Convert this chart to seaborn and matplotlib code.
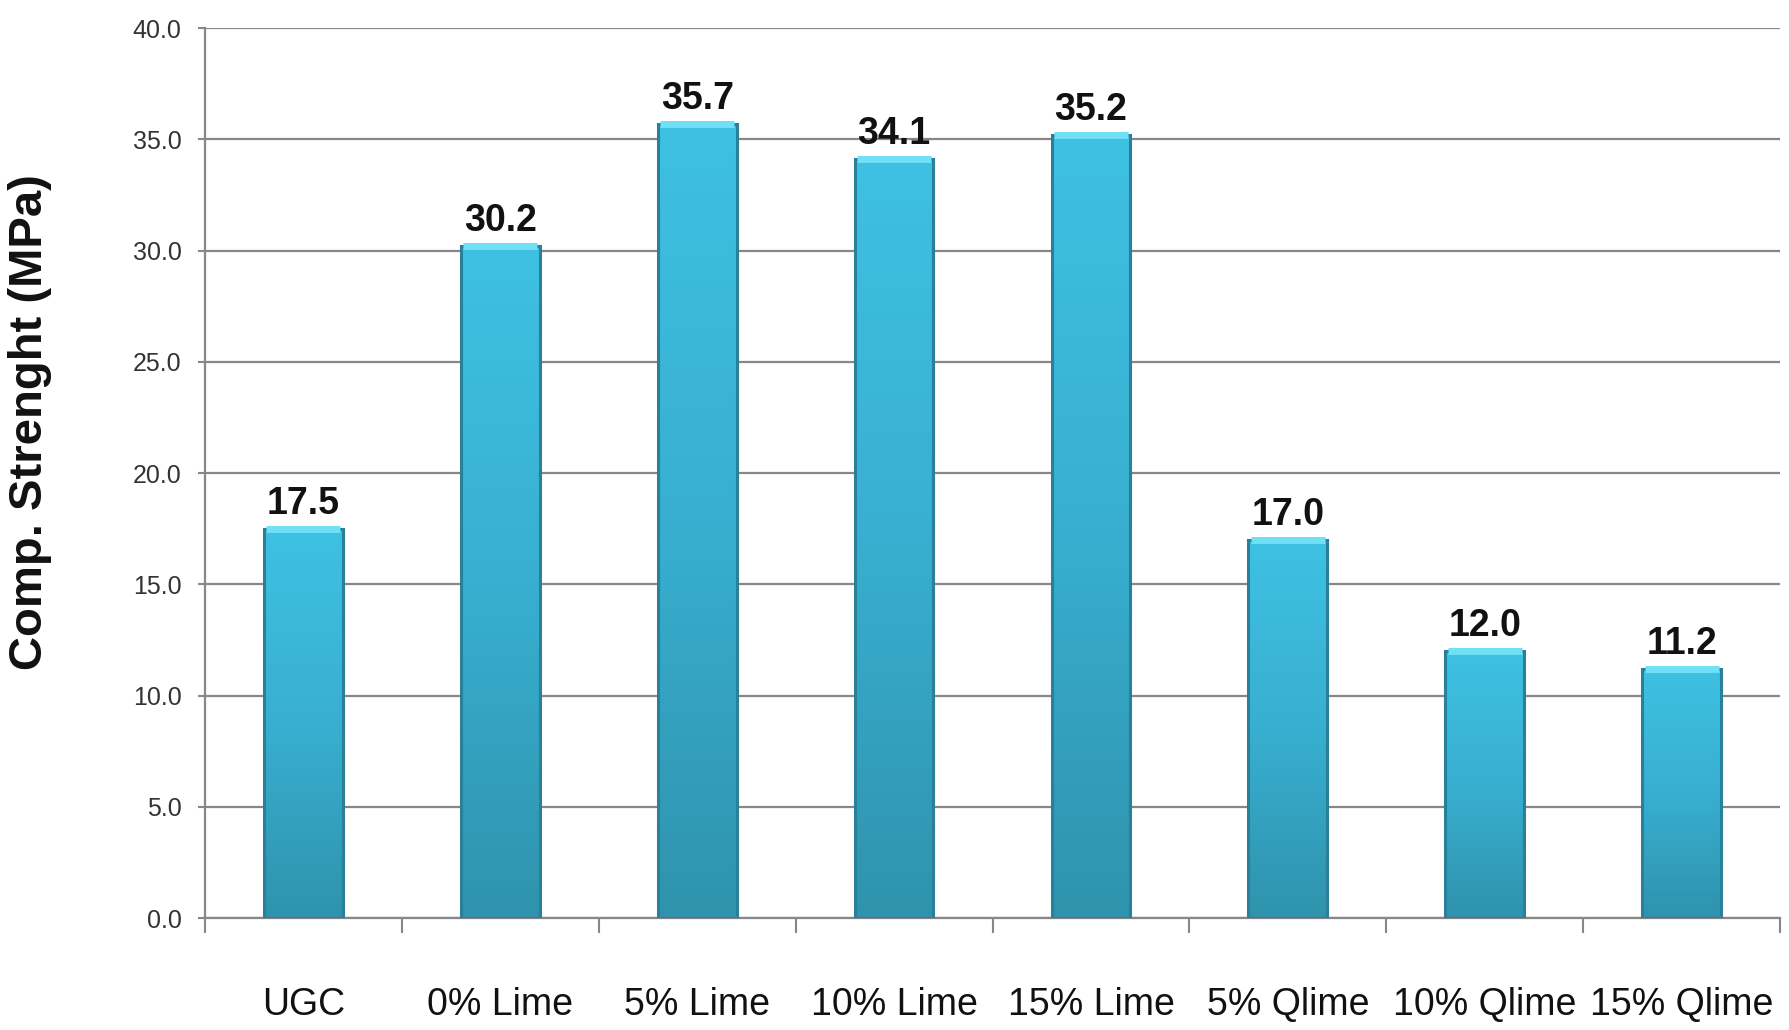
import numpy as np
import pandas as pd
import matplotlib
matplotlib.use('Agg')
import matplotlib.pyplot as plt
import seaborn as sns
from matplotlib.colors import LinearSegmentedColormap

# data
categories = ['UGC', '0% Lime', '5% Lime', '10% Lime', '15% Lime', '5% Qlime', '10% Qlime', '15% Qlime']
strength = [17.5, 30.2, 35.7, 34.1, 35.2, 17.0, 12.0, 11.2]
y_ticks = [0, 5, 10, 15, 20, 25, 30, 35, 40]

df = pd.DataFrame({'mix': categories, 'strength': strength})

sns.set_style('white')
font = ['Liberation Sans', 'DejaVu Sans']
grey = '#878787'

fig = plt.figure(figsize=(17.89, 10.30), dpi=100)
ax = fig.add_axes([0.1146, 0.1087, 0.8804, 0.8641])

sns.barplot(data=df, x='mix', y='strength', color='#3ab8dc', width=0.4, ax=ax)

# vertical gradient inside each bar, light cap on top
cmap = LinearSegmentedColormap.from_list('bar', ['#2f93ad', '#38afd0', '#3ec1e3'])
grad = np.linspace(0, 1, 256).reshape(-1, 1)
for p in ax.patches:
    x0, y0 = p.get_x(), p.get_y()
    w, h = p.get_width(), p.get_height()
    ax.imshow(grad, extent=[x0, x0 + w, y0, y0 + h], origin='lower', aspect='auto',
              cmap=cmap, zorder=2, clip_path=p)
    p.set_facecolor('none')
    p.set_edgecolor('#2a8098')
    p.set_linewidth(2.2)
    p.set_zorder(3)
    ax.plot([x0 + w * 0.03, x0 + w * 0.97], [y0 + h, y0 + h], color='#6fe0f5',
            lw=5, solid_capstyle='butt', zorder=4)

ax.set_xlim(-0.5, len(categories) - 0.5)
ax.set_ylim(0, 40)
ax.set_yticks(y_ticks)
ax.set_yticklabels([f'{v:.1f}' for v in y_ticks], family=font, fontsize=18, color='#333333')
ax.yaxis.grid(True, color=grey, linewidth=1.6)
ax.set_axisbelow(True)

# category ticks between bars, labels in the middle
ax.set_xticks(np.arange(len(categories) + 1) - 0.5)
ax.set_xticklabels([])
ax.set_xticks(np.arange(len(categories)), minor=True)
ax.set_xticklabels(categories, minor=True, family=font, fontsize=27, color='#111111')
ax.tick_params(axis='x', which='major', length=11, width=1.5, color=grey, direction='out', bottom=True)
ax.tick_params(axis='x', which='minor', length=0, pad=50)
ax.tick_params(axis='y', length=5, width=1.5, color=grey, direction='out', left=True, pad=12)

for side in ['top', 'right']:
    ax.spines[side].set_visible(False)
for side in ['left', 'bottom']:
    ax.spines[side].set_color(grey)
    ax.spines[side].set_linewidth(1.6)

for c in ax.containers:
    ax.bar_label(c, fmt='%.1f', padding=5, fontsize=27, fontweight='bold',
                 family=font, color='#111111')

ax.set_xlabel('')
ax.set_ylabel('Comp. Strenght (MPa)', fontsize=34, fontweight='bold',
              family=font, color='#111111')
ax.yaxis.set_label_coords(-0.097, 0.557)

fig.savefig('out.png', dpi=100)
